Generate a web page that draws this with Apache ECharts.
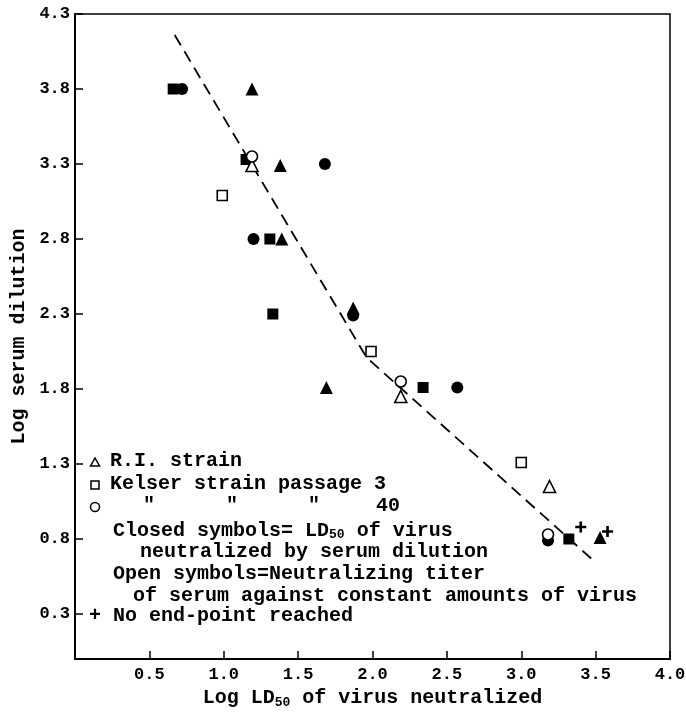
<!DOCTYPE html>
<html>
<head>
<meta charset="utf-8">
<script src="https://cdn.jsdelivr.net/npm/echarts@6/dist/echarts.min.js"></script>
<style>html,body{margin:0;padding:0;background:#fff;}#c{width:686px;height:717px;}</style>
</head>
<body>
<div id="c"></div>
<script>
// ---- data ----
var xTicks = [0.5, 1.0, 1.5, 2.0, 2.5, 3.0, 3.5, 4.0];
var yTicks = [0.3, 0.8, 1.3, 1.8, 2.3, 2.8, 3.3, 3.8, 4.3];

// R.I. strain (triangles)
var riClosedX = [1.19, 1.38, 1.39, 1.87, 1.69, 3.53];
var riClosedY = [3.80, 3.29, 2.80, 2.34, 1.81, 0.81];
var riOpenX = [1.19, 2.19, 3.19];
var riOpenY = [3.29, 1.75, 1.15];
// Kelser strain passage 3 (squares)
var k3ClosedX = [0.66, 1.15, 1.31, 1.33, 2.34, 3.32];
var k3ClosedY = [3.80, 3.33, 2.80, 2.30, 1.81, 0.80];
var k3OpenX = [0.99, 1.99, 3.00];
var k3OpenY = [3.09, 2.05, 1.31];
// Kelser strain passage 40 (circles)
var k40ClosedX = [0.72, 1.68, 1.20, 1.87, 2.57, 3.18];
var k40ClosedY = [3.80, 3.30, 2.80, 2.29, 1.81, 0.79];
var k40OpenX = [1.19, 2.19, 3.18];
var k40OpenY = [3.35, 1.85, 0.83];
// No end-point reached (+)
var plusX = [3.40, 3.58];
var plusY = [0.88, 0.85];
// Fitted dashed line
var fitX = [0.67, 1.96, 3.47];
var fitY = [4.16, 2.01, 0.67];

function pairs(xs, ys) { return xs.map(function (x, i) { return [x, ys[i]]; }); }

var FONT = 'Liberation Mono';
var chart = echarts.init(document.getElementById('c'));

function closed(name, sym, size, xs, ys) {
  return { name: name, type: 'scatter', symbol: sym, symbolSize: size, data: pairs(xs, ys),
    itemStyle: { color: '#000', opacity: 1 }, z: 3 };
}
function open(name, sym, size, xs, ys) {
  return { name: name, type: 'scatter', symbol: sym, symbolSize: size, data: pairs(xs, ys),
    itemStyle: { color: '#fff', borderColor: '#000', borderWidth: 1.6, opacity: 1 }, z: 4 };
}

var txtStyle = function (text, x, y, rich) {
  return { type: 'text', left: x, top: y - 11, style: { text: text, font: 'bold 20px "' + FONT + '"', fill: '#000', rich: rich } };
};
var subRich = { s: { font: 'bold 13px "' + FONT + '"', fill: '#000', verticalAlign: 'bottom', padding: [8, 0, 0, 0] } };

var option = {
  backgroundColor: '#fff',
  animation: false,
  grid: { left: 75, right: 16, top: 14, bottom: 58, containLabel: false, outerBoundsMode: 'none',
    show: true, borderColor: '#000', borderWidth: 1.5, backgroundColor: 'transparent' },
  xAxis: {
    type: 'value', min: 0, max: 4.0,
    name: 'Log LD{s|50} of virus neutralized', nameLocation: 'middle', nameGap: 27,
    nameTextStyle: { fontFamily: FONT, fontWeight: 'bold', fontSize: 20, color: '#000',
      rich: { s: { fontFamily: FONT, fontWeight: 'bold', fontSize: 13, color: '#000', padding: [10, 0, 0, 0] } } },
    axisLine: { lineStyle: { color: '#000', width: 2 } },
    axisTick: { inside: true, length: 8, lineStyle: { color: '#000', width: 1.5 }, customValues: xTicks },
    axisLabel: { customValues: xTicks, margin: 7, fontFamily: FONT, fontWeight: 'bold', fontSize: 17, color: '#000',
      formatter: function (v) { return v.toFixed(1); } },
    splitLine: { show: false }
  },
  yAxis: {
    type: 'value', min: 0, max: 4.3,
    name: 'Log serum dilution', nameLocation: 'middle', nameGap: 45, nameRotate: 90,
    nameTextStyle: { fontFamily: FONT, fontWeight: 'bold', fontSize: 20, color: '#000' },
    axisLine: { lineStyle: { color: '#000', width: 2 } },
    axisTick: { inside: true, length: 8, lineStyle: { color: '#000', width: 1.5 }, customValues: yTicks },
    axisLabel: { customValues: yTicks, margin: 5, fontFamily: FONT, fontWeight: 'bold', fontSize: 17, color: '#000',
      formatter: function (v) { return v.toFixed(1); } },
    splitLine: { show: false }
  },
  series: [
    { name: 'fit', type: 'line', data: pairs(fitX, fitY), symbol: 'none', z: 2,
      lineStyle: { color: '#000', width: 1.8, type: [12, 7] } },
    closed('R.I. strain closed', 'triangle', 13, riClosedX, riClosedY),
    closed('Kelser p3 closed', 'rect', 11, k3ClosedX, k3ClosedY),
    closed('Kelser p40 closed', 'circle', 12, k40ClosedX, k40ClosedY),
    open('R.I. strain open', 'triangle', 12, riOpenX, riOpenY),
    open('Kelser p3 open', 'rect', 10, k3OpenX, k3OpenY),
    open('Kelser p40 open', 'circle', 11, k40OpenX, k40OpenY),
    { name: 'No end-point reached', type: 'scatter', symbol: 'path://M3.8,0H6.2V3.8H10V6.2H6.2V10H3.8V6.2H0V3.8H3.8Z', symbolSize: 11,
      data: pairs(plusX, plusY), itemStyle: { color: '#000', opacity: 1 }, z: 5 }
  ],
  graphic: [
    { type: 'polygon', shape: { points: [[95, 458], [99.5, 466], [90.5, 466]] }, style: { fill: '#fff', stroke: '#000', lineWidth: 1.5 } },
    { type: 'rect', shape: { x: 91, y: 481, width: 8, height: 8 }, style: { fill: '#fff', stroke: '#000', lineWidth: 1.5 } },
    { type: 'circle', shape: { cx: 95, cy: 507, r: 4.5 }, style: { fill: '#fff', stroke: '#000', lineWidth: 1.5 } },
    txtStyle('R.I. strain', 110, 462),
    txtStyle('Kelser strain passage 3', 110, 485),
    txtStyle('"', 143, 507),
    txtStyle('"', 226, 507),
    txtStyle('"', 308, 507),
    txtStyle('40', 376, 507),
    txtStyle('Closed symbols= LD{s|50} of virus', 113, 532, subRich),
    txtStyle('neutralized by serum dilution', 140, 553),
    txtStyle('Open symbols=Neutralizing titer', 113, 575),
    txtStyle('of serum against constant amounts of virus', 133, 597),
    txtStyle('+ No end-point reached', 89, 617)
  ]
};
chart.setOption(option);
</script>
</body>
</html>
